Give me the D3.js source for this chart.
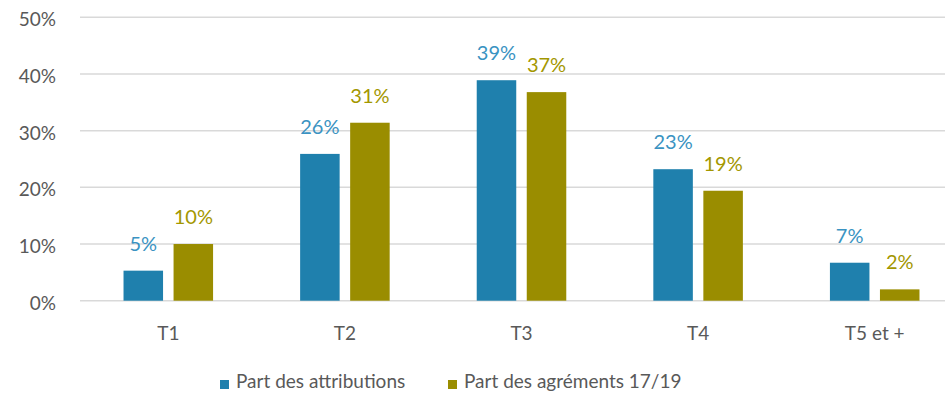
<!DOCTYPE html>
<html>
<head>
<meta charset="utf-8">
<script src="https://cdn.jsdelivr.net/npm/d3@7"></script>
<style>
  body { margin: 0; background: #fff; }
  svg { display: block; font-family: Lato, "Open Sans", sans-serif; }
</style>
</head>
<body>
<div id="chart"></div>
<script>
// data
const categories = ['T1', 'T2', 'T3', 'T4', 'T5 et +'];
const seriesNames = ['Part des attributions', 'Part des agréments 17/19'];
const attributions = [0.053, 0.259, 0.389, 0.232, 0.067];
const agrements = [0.10, 0.314, 0.368, 0.194, 0.02];
const yTicks = [0, 0.1, 0.2, 0.3, 0.4, 0.5];

const colors = ['#1f80ad', '#9a8d00'];
const labelColors = ['#3a93c2', '#a39700'];

const width = 945, height = 401;
const margin = { top: 17, left: 80, bottom: 100 };
const plotRight = 963; // the plot runs a little past the picture's edge

const svg = d3.select('#chart').append('svg')
  .attr('width', width)
  .attr('height', height);

const x = d3.scaleBand()
  .domain(categories)
  .range([margin.left, plotRight]);

const x1 = d3.scaleBand()
  .domain([0, 1])
  .range([0, x.bandwidth()])
  .paddingInner(0.21)
  .paddingOuter(0.87);

const y = d3.scaleLinear()
  .domain([0, 0.5])
  .range([300.7, margin.top + 0.3]);

// grid lines
svg.append('g')
  .selectAll('line')
  .data(yTicks)
  .join('line')
  .attr('x1', margin.left)
  .attr('x2', width)
  .attr('y1', d => y(d))
  .attr('y2', d => y(d))
  .attr('stroke', '#d9d9d9')
  .attr('stroke-width', 1.5);

// y labels
svg.append('g')
  .selectAll('text')
  .data(yTicks)
  .join('text')
  .attr('x', 56)
  .attr('y', d => y(d) + 9)
  .attr('text-anchor', 'end')
  .attr('fill', '#595959')
  .attr('font-size', 19)
  .text(d => Math.round(d * 100) + '%');

const series = [attributions, agrements];

const groups = svg.append('g')
  .selectAll('g')
  .data(categories)
  .join('g')
  .attr('transform', d => `translate(${x(d)},0)`);

groups.selectAll('rect')
  .data((d, i) => series.map((s, k) => ({ k, v: s[i] })))
  .join('rect')
  .attr('x', d => x1(d.k))
  .attr('width', x1.bandwidth())
  .attr('y', d => y(d.v))
  .attr('height', d => y(0) - y(d.v))
  .attr('fill', d => colors[d.k]);

groups.selectAll('text.val')
  .data((d, i) => series.map((s, k) => ({ k, v: s[i] })))
  .join('text')
  .attr('class', 'val')
  .attr('x', d => x1(d.k) + x1.bandwidth() / 2)
  .attr('y', d => y(d.v) - 20)
  .attr('text-anchor', 'middle')
  .attr('fill', d => labelColors[d.k])
  .attr('font-size', 20)
  .text(d => Math.round(d.v * 100) + '%');

// category labels
svg.append('g')
  .selectAll('text')
  .data(categories)
  .join('text')
  .attr('x', d => x(d) + x.bandwidth() / 2)
  .attr('y', 340)
  .attr('text-anchor', 'middle')
  .attr('fill', '#595959')
  .attr('font-size', 19)
  .text(d => d);

// legend
const legendX = [220, 448];
const legend = svg.append('g')
  .selectAll('g')
  .data(seriesNames)
  .join('g')
  .attr('transform', (d, i) => `translate(${legendX[i]},380)`);

legend.append('rect')
  .attr('width', 9)
  .attr('height', 9)
  .attr('fill', (d, i) => colors[i]);

legend.append('text')
  .attr('x', 16)
  .attr('y', 8)
  .attr('fill', '#595959')
  .attr('font-size', 19)
  .text(d => d);
</script>
</body>
</html>
